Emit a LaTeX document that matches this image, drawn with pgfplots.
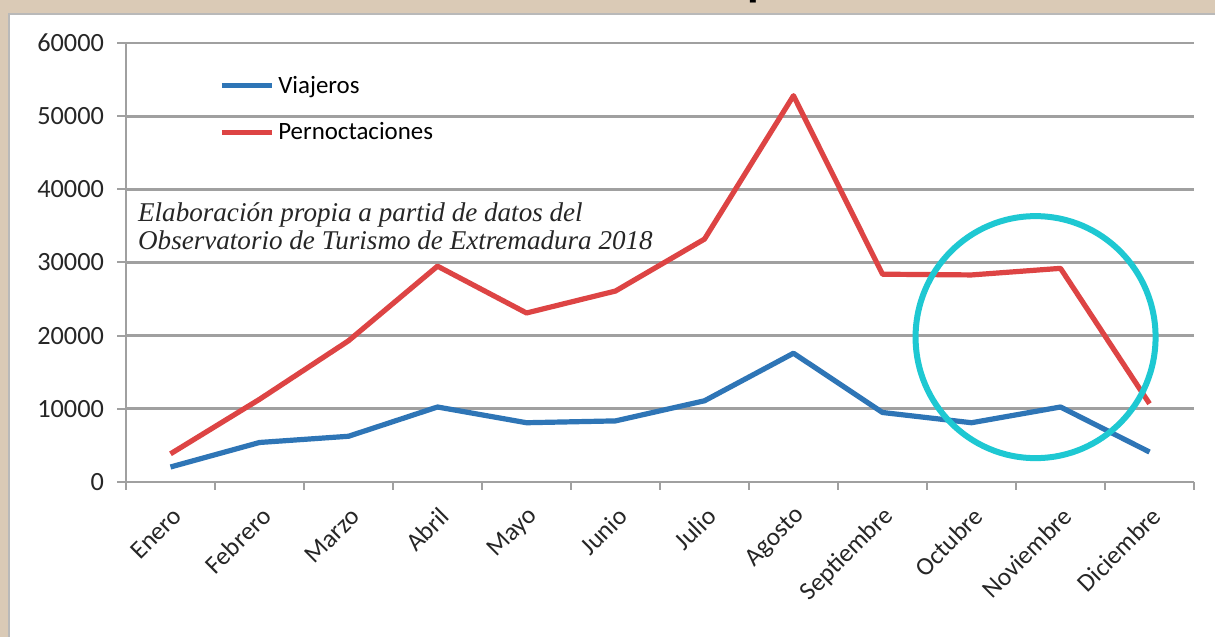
\documentclass[border=0pt]{standalone}
\usepackage{pgfplots}
\pgfplotsset{compat=1.18}
\usepackage{fontspec}
\setmainfont{Carlito}
\newfontfamily\notefont{Liberation Serif}
\definecolor{parch}{RGB}{218,202,182}
\definecolor{vblue}{RGB}{46,117,182}
\definecolor{pred}{RGB}{221,68,68}
\definecolor{circ}{RGB}{30,200,210}
\definecolor{gridg}{RGB}{160,160,160}
\begin{document}
\begin{tikzpicture}
\useasboundingbox (0,0) rectangle (607.5bp,318.5bp);
\fill[parch] (0,0) rectangle (607.5bp,318.5bp);
\fill[white, draw=gray!55, line width=0.8bp] (4.5bp,-2bp) rectangle (609bp,311.5bp);
\node[font=\bfseries\fontsize{24}{24}\selectfont, anchor=base] at (380bp,320.5bp) {p};
\begin{axis}[
 at={(63bp,77.5bp)}, anchor=south west,
 scale only axis, width=534bp, height=219.5bp,
 xmin=-0.5, xmax=11.5, ymin=0, ymax=60000,
 ytick={0,10000,...,60000},
 scaled y ticks=false,
 ymajorgrids, grid style={gridg, line width=1.4bp},
 axis x line*=bottom, axis y line*=left,
 axis line style={gridg, line width=1.1bp},
 xtick={0,...,11},
 xticklabels={Enero,Febrero,Marzo,Abril,Mayo,Junio,Julio,Agosto,Septiembre,Octubre,Noviembre,Diciembre},
 major x tick style={draw=none},
 minor xtick={-0.5,0.5,...,11.5},
 minor tick length=4bp,
 major tick length=4.5bp,
 tick align=outside,
 tick style={gridg, line width=1bp},
 /pgf/number format/1000 sep={},
 /pgf/number format/assume math mode=true,
 yticklabel style={font=\fontsize{13.2}{14}\selectfont, text=black!85, xshift=-3bp},
 xticklabel style={font=\fontsize{12.8}{14}\selectfont, text=black!85, rotate=45, anchor=east, xshift=-1.5bp, yshift=-10bp},
 legend style={at={(0.087,0.935)}, anchor=north west, draw=none, fill=none, font=\fontsize{12.5}{14}\selectfont, row sep=9bp, inner sep=0pt, cells={anchor=west}},
 legend image code/.code={\draw[#1, line width=2.5bp] (0bp,0bp) -- (25bp,0bp);},
 legend cell align=left,
]
\addplot[vblue, line width=2.6bp, line join=round, no marks] coordinates {
 (0,2050) (1,5400) (2,6250) (3,10250) (4,8100) (5,8350) (6,11100) (7,17600) (8,9500) (9,8100) (10,10250) (11,4100)};
\addlegendentry{Viajeros}
\addplot[pred, line width=2.6bp, line join=round, no marks] coordinates {
 (0,3850) (1,11300) (2,19300) (3,29500) (4,23100) (5,26100) (6,33200) (7,52800) (8,28400) (9,28300) (10,29200) (11,10700)};
\addlegendentry{Pernoctaciones}
\node[anchor=north west, align=left, font=\notefont\itshape\fontsize{13.6}{14}\selectfont, text=black!85, inner sep=0pt] at (axis description cs:0.011,0.638) {Elaboración propia a partid de datos del\\Observatorio de Turismo de Extremadura 2018};
\draw[circ, line width=3bp] (axis cs:9.72,19800) ellipse [x radius=60bp, y radius=60.5bp];
\end{axis}
\end{tikzpicture}
\end{document}
